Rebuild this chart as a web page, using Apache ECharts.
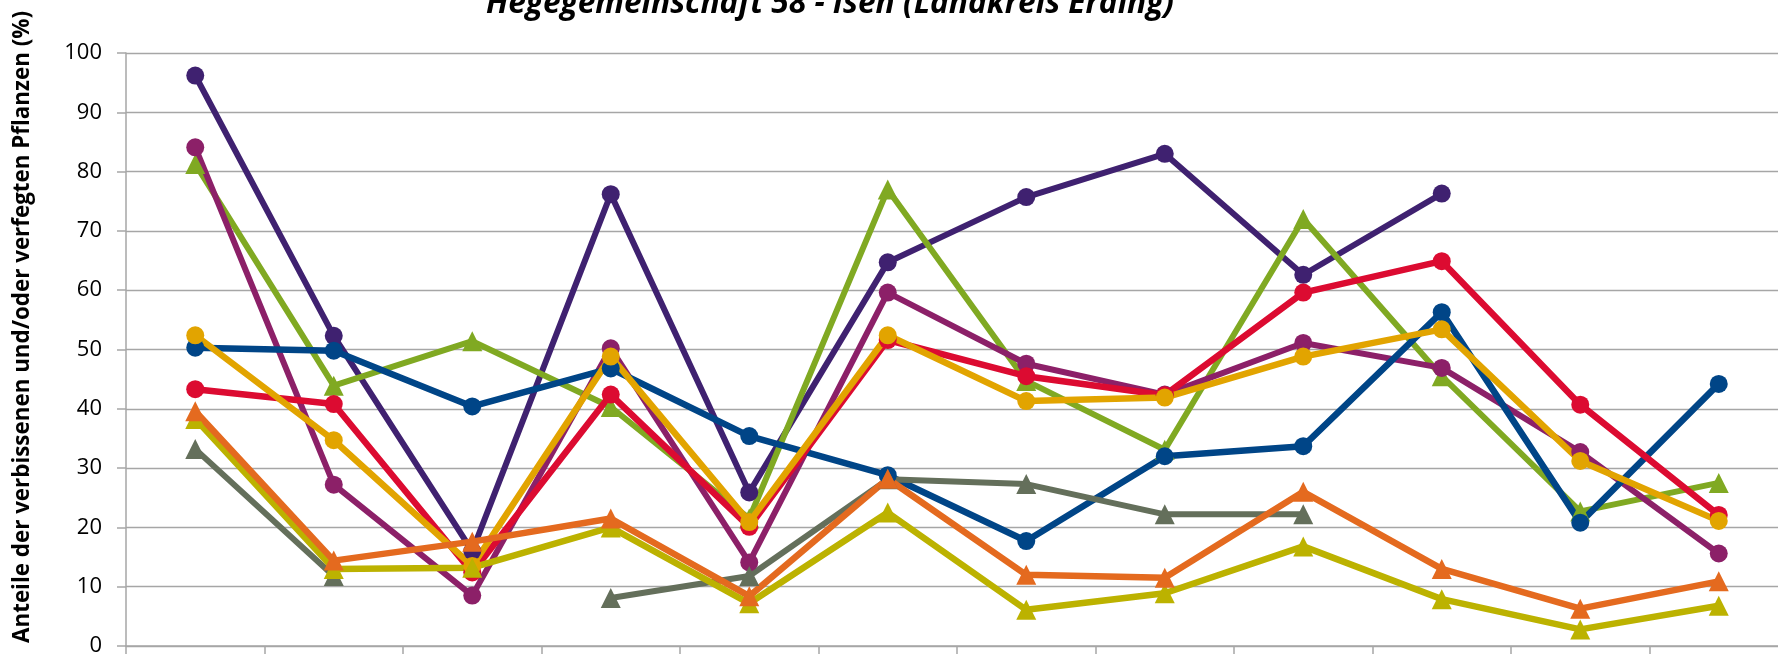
<!DOCTYPE html>
<html><head><meta charset="utf-8">
<script src="https://cdn.jsdelivr.net/npm/echarts@6/dist/echarts.min.js"></script>
<style>html,body{margin:0;padding:0;background:#fff}#c{width:1778px;height:654px}</style>
</head><body><div id="c"></div>
<script>
// ---- data ----
const categories = ['1','2','3','4','5','6','7','8','9','10','11','12'];
const titleText = 'Hegegemeinschaft 58 - Isen (Landkreis Erding)';
const yAxisTitle = 'Anteile der verbissenen und/oder verfegten Pflanzen (%)';
const yMin = 0, yMax = 100, yInterval = 10;

const seriesDarkPurple = [96.2, 52.3, 16.0, 76.2, 25.9, 64.7, 75.7, 83.0, 62.6, 76.3, null, null];
const seriesGreen      = [81.3, 43.9, 51.4, 40.3, 21.5, 77.0, 44.7, 33.1, 72.0, 45.5, 22.7, 27.5];
const seriesMagenta    = [84.1, 27.2, 8.5, 50.2, 14.1, 59.6, 47.6, 42.4, 51.1, 46.9, 32.7, 15.6];
const seriesBlue       = [50.3, 49.8, 40.4, 46.8, 35.4, 28.8, 17.7, 32.0, 33.7, 56.3, 20.8, 44.2];
const seriesRed        = [43.3, 40.8, 12.4, 42.4, 20.1, 51.6, 45.5, 42.3, 59.6, 64.9, 40.7, 22.1];
const seriesGold       = [52.4, 34.7, 13.5, 48.8, 20.9, 52.4, 41.3, 41.9, 48.8, 53.4, 31.2, 21.1];
const seriesGray       = [33.2, 11.8, null, 8.1, 11.8, 28.1, 27.3, 22.2, 22.2, null, null, null];
const seriesOlive      = [38.3, 13.0, 13.2, 20.0, 7.2, 22.5, 6.1, 8.9, 16.8, 7.9, 2.8, 6.8];
const seriesOrange     = [39.6, 14.4, 17.6, 21.5, 8.4, 28.2, 12.0, 11.5, 26.0, 13.0, 6.3, 10.9];

// ---- helpers ----
function fitFont(text, style, weight, family, target) {
  const ctx = document.createElement('canvas').getContext('2d');
  ctx.font = style + ' ' + weight + ' 100px ' + family;
  return 100 * target / ctx.measureText(text).width;
}
const FAM = '"Open Sans", "Noto Sans", sans-serif';
const titleSize = fitFont(titleText, 'italic', 'bold', FAM, 688);
const yNameSize = fitFont(yAxisTitle, 'normal', 'bold', FAM, 632);

function mk(name, data, color, symbol, width, size) {
  return {
    name: name, type: 'line', data: data, connectNulls: false,
    symbol: symbol, symbolSize: size, showSymbol: true,
    lineStyle: {color: color, width: width},
    itemStyle: {color: color, borderWidth: 0},
    emphasis: {disabled: true}, animation: false
  };
}

const chart = echarts.init(document.getElementById('c'), null, {renderer: 'canvas'});
chart.setOption({
  animation: false,
  backgroundColor: '#ffffff',
  grid: {left: 126, top: 53, width: 1662, height: 593, containLabel: false, outerBoundsMode: 'none'},
  xAxis: {
    type: 'category', data: categories, boundaryGap: true,
    axisLine: {show: true, lineStyle: {color: '#A6A6A6', width: 1.5}},
    axisTick: {show: true, length: 9, lineStyle: {color: '#A6A6A6', width: 1.5}},
    axisLabel: {show: false},
    splitLine: {show: false}
  },
  yAxis: {
    type: 'value', min: yMin, max: yMax, interval: yInterval,
    axisLine: {show: true, lineStyle: {color: '#A6A6A6', width: 1.5}},
    axisTick: {show: true, length: 9, lineStyle: {color: '#A6A6A6', width: 1.5}},
    axisLabel: {show: true, margin: 24, color: '#000', fontSize: 22, fontFamily: FAM},
    splitLine: {show: true, lineStyle: {color: '#A6A6A6', width: 1.3}}
  },
  graphic: [
    {type: 'text', x: 486, y: 13.3 - 0.3 * titleSize,
     style: {text: titleText, fill: '#000', align: 'left', verticalAlign: 'middle',
             font: 'italic bold ' + titleSize.toFixed(2) + 'px ' + FAM}},
    {type: 'text', x: 23, y: 327, rotation: Math.PI / 2,
     style: {text: yAxisTitle, fill: '#000', align: 'center', verticalAlign: 'middle',
             font: 'bold ' + yNameSize.toFixed(2) + 'px ' + FAM}}
  ],
  series: [
    mk('S1', seriesDarkPurple, '#3F2170', 'circle', 6, 18),
    mk('S2', seriesGreen, '#80A922', 'triangle', 6, 20),
    mk('S3', seriesMagenta, '#8C2068', 'circle', 6, 18),
    mk('S4', seriesBlue, '#004587', 'circle', 6.5, 18),
    mk('S5', seriesRed, '#DC0B31', 'circle', 6.5, 18),
    mk('S6', seriesGold, '#E2A400', 'circle', 6.5, 18),
    mk('S7', seriesGray, '#646F5B', 'triangle', 6, 20),
    mk('S8', seriesOlive, '#BCB200', 'triangle', 6.5, 20),
    mk('S9', seriesOrange, '#E46A1F', 'triangle', 6.5, 20)
  ]
});
</script></body></html>
